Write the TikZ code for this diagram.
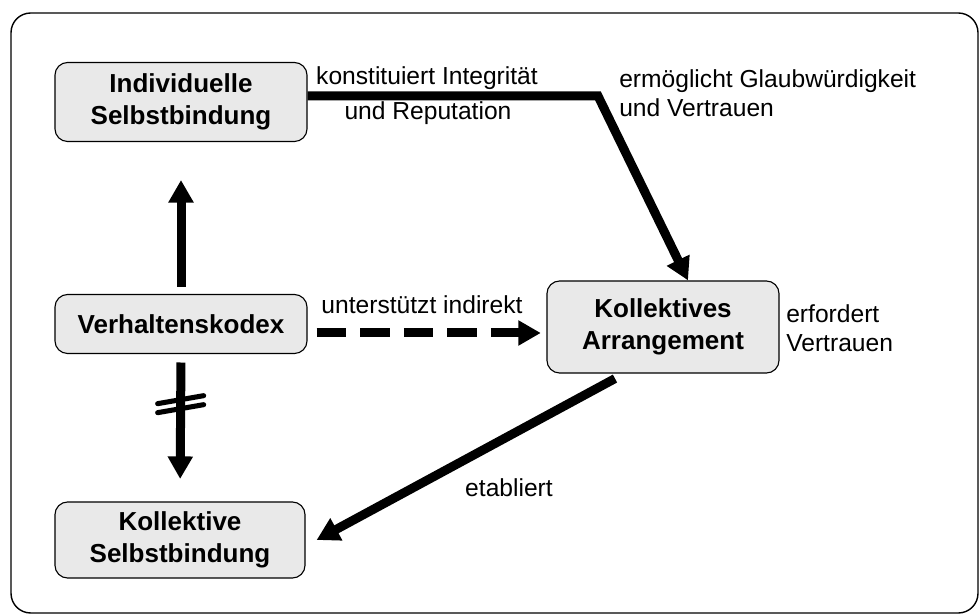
\documentclass[tikz,border=0pt]{standalone}
\usepackage{fontspec}
\setmainfont{Liberation Sans}
\usetikzlibrary{arrows.meta,calc}
\tikzset{
	block/.style={draw, rounded corners=9pt, fill=gray!17, line width=0.8pt, align=center,
		font=\fontsize{18.5}{22.5}\selectfont\bfseries, inner sep=2pt},
	link/.style={line width=6.4pt, -{Triangle[length=16pt,width=17pt]}},
	lbl/.style={font=\fontsize{17.5}{21}\selectfont, inner sep=0pt},
}
\begin{document}
\begin{tikzpicture}[x=0.025cm, y=-0.025cm]
	\useasboundingbox (0,0) rectangle (980,615);
	\draw[line width=1pt, rounded corners=14pt] (11,13) rectangle (978,613);
	\node[block, minimum width=6.3cm, minimum height=1.975cm] (indiv) at (181,102) {Individuelle\\Selbstbindung};
	\node[block, minimum width=6.3cm, minimum height=1.475cm] (kodex) at (181,324) {Verhaltenskodex};
	\node[block, minimum width=5.8cm, minimum height=2.3cm] (arrang) at (663,327) {Kollektives\\Arrangement};
	\node[block, minimum width=6.25cm, minimum height=1.9cm] (kollsb) at (180,540) {Kollektive\\Selbstbindung};
	\draw[link, shorten <=5pt, shorten >=27pt] (kodex.north) -- (indiv.south);
	\draw[link, shorten <=6pt, shorten >=16pt] (kodex.south) -- (kollsb.north) coordinate[pos=0.34] (cut);
	\foreach \dy in {-4.5,4.5}
		\draw[line width=3.6pt, line cap=round] ($(cut)+(-23,\dy+4)$) -- ($(cut)+(23,\dy-4)$);
	\coordinate (dstart) at ($(kodex.east)+(9,9)$);
	\draw[link, dash pattern=on 21pt off 10pt, shorten >=4pt] (dstart) -- (dstart -| arrang.west);
	\coordinate (bend) at (598,96);
	\draw[link] (indiv.east |- bend) -- (bend) -- ($(arrang.north)+(25,0)$);
	\draw[link] ($(arrang.south)+(-48,5)$) -- ($(kollsb.east)+(11,0)$);
	\node[lbl] (konst) at (427,78) {konstituiert Integrität};
	\node[lbl] (reput) at (428,113) {und Reputation};
	\node[lbl, anchor=west, align=left] (ermoeg) at (619,93) {ermöglicht Glaubwürdigkeit\\und Vertrauen};
	\node[lbl] (unterst) at (422,305) {unterstützt indirekt};
	\node[lbl, anchor=west, align=left] (erford) at (786,328) {erfordert\\Vertrauen};
	\node[lbl] (etabl) at (509,488) {etabliert};
\end{tikzpicture}
\end{document}
